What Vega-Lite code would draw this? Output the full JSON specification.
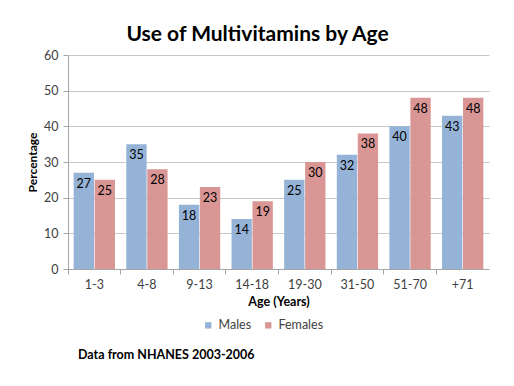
{
  "$schema": "https://vega.github.io/schema/vega-lite/v6.json",
  "width": 421,
  "height": 214,
  "autosize": {"type": "none"},
  "padding": {"left": 68, "top": 55, "right": 25, "bottom": 117},
  "background": "white",
  "config": {
    "font": "Lato",
    "view": {"stroke": null},
    "axisY": {"grid": true, "gridColor": "#c8c8c8", "domainColor": "#a6a6a6", "tickColor": "#a6a6a6", "tickSize": 5, "labelPadding": 5, "labelFontSize": 12.5, "labelColor": "#404040", "titleFontSize": 12, "titleFontWeight": "bold", "titleColor": "black", "titlePadding": 4, "labelOverlap": false},
    "axisX": {"labelAngle": 0, "bandPosition": 0, "labelFontSize": 12.5, "labelColor": "#404040", "labelPadding": 4, "tickSize": 5, "tickColor": "#a6a6a6", "domainColor": "#a6a6a6", "titleFontSize": 12.5, "titleFontWeight": "bold", "titleColor": "black", "titlePadding": 5, "grid": false}
  },
  "title": {"text": "Use of Multivitamins by Age", "fontSize": 21, "fontWeight": "bold", "color": "black", "dx": -21, "offset": 4},
  "data": {"values": [
    {"age": "1-3", "sex": "Males", "pct": 27},
    {"age": "1-3", "sex": "Females", "pct": 25},
    {"age": "4-8", "sex": "Males", "pct": 35},
    {"age": "4-8", "sex": "Females", "pct": 28},
    {"age": "9-13", "sex": "Males", "pct": 18},
    {"age": "9-13", "sex": "Females", "pct": 23},
    {"age": "14-18", "sex": "Males", "pct": 14},
    {"age": "14-18", "sex": "Females", "pct": 19},
    {"age": "19-30", "sex": "Males", "pct": 25},
    {"age": "19-30", "sex": "Females", "pct": 30},
    {"age": "31-50", "sex": "Males", "pct": 32},
    {"age": "31-50", "sex": "Females", "pct": 38},
    {"age": "51-70", "sex": "Males", "pct": 40},
    {"age": "51-70", "sex": "Females", "pct": 48},
    {"age": "+71", "sex": "Males", "pct": 43},
    {"age": "+71", "sex": "Females", "pct": 48}
  ]},
  "layer": [
    {
      "mark": {"type": "bar"},
      "encoding": {
        "x": {"field": "age", "type": "nominal", "sort": ["1-3", "4-8", "9-13", "14-18", "19-30", "31-50", "51-70", "+71"],
          "scale": {"paddingInner": 0, "paddingOuter": 0},
          "axis": {"title": "Age (Years)"}},
        "xOffset": {"field": "sex", "type": "nominal", "sort": ["Males", "Females"], "scale": {"paddingInner": 0.03, "paddingOuter": 0.27}},
        "y": {"field": "pct", "type": "quantitative", "scale": {"domain": [0, 60]},
          "axis": {"title": "Percentage", "values": [0, 10, 20, 30, 40, 50, 60]}},
        "color": {"field": "sex", "type": "nominal", "scale": {"domain": ["Males", "Females"], "range": ["#95B3D7", "#D99694"]},
          "legend": {"orient": "none", "legendX": 134, "legendY": 264, "direction": "horizontal", "title": null, "symbolType": "square", "symbolSize": 40, "symbolStrokeWidth": 0, "labelFontSize": 12.5, "labelColor": "#404040", "columnPadding": 10}}
      }
    },
    {
      "mark": {"type": "text", "baseline": "top", "dy": 5, "fontSize": 12.5, "color": "black"},
      "encoding": {
        "x": {"field": "age", "type": "nominal", "sort": ["1-3", "4-8", "9-13", "14-18", "19-30", "31-50", "51-70", "+71"], "axis": {"title": "Age (Years)"}},
        "xOffset": {"field": "sex", "type": "nominal", "sort": ["Males", "Females"]},
        "y": {"field": "pct", "type": "quantitative", "axis": {"title": "Percentage", "values": [0, 10, 20, 30, 40, 50, 60]}},
        "text": {"field": "pct", "type": "quantitative"}
      }
    },
    {
      "data": {"values": [{"note": "Data from NHANES 2003-2006"}]},
      "mark": {"type": "text", "align": "left", "baseline": "middle", "fontWeight": "bold", "fontSize": 12.5, "color": "black", "dx": 10},
      "encoding": {
        "x": {"datum": "1-3", "bandPosition": 0, "axis": {"title": "Age (Years)"}},
        "y": {"datum": -24, "axis": {"title": "Percentage", "values": [0, 10, 20, 30, 40, 50, 60]}},
        "text": {"field": "note"}
      }
    }
  ]
}
